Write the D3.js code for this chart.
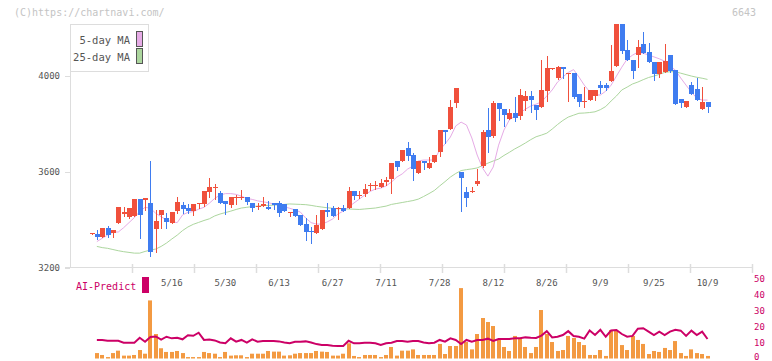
<!DOCTYPE html>
<html>
<head>
<meta charset="utf-8">
<script src="https://cdn.jsdelivr.net/npm/d3@7"></script>
<style>
  body { margin: 0; background: #fff; }
  text { font-family: "DejaVu Sans Mono", monospace; }
</style>
</head>
<body>
<div id="chart"></div>
<script>
const dates = [
  '4/22','4/23','4/24','4/25','4/28','4/30','5/1','5/2','5/7','5/8',
  '5/9','5/12','5/13','5/14','5/15','5/16','5/19','5/20','5/21','5/22',
  '5/23','5/26','5/27','5/28','5/29','5/30','6/2','6/3','6/4','6/5',
  '6/6','6/9','6/10','6/11','6/12','6/13','6/16','6/17','6/18','6/19',
  '6/20','6/23','6/24','6/25','6/26','6/27','6/30','7/1','7/2','7/3',
  '7/4','7/7','7/8','7/9','7/10','7/11','7/14','7/15','7/16','7/17',
  '7/18','7/22','7/23','7/24','7/25','7/28','7/29','7/30','7/31','8/1',
  '8/4','8/5','8/6','8/7','8/8','8/12','8/13','8/14','8/15','8/18',
  '8/19','8/20','8/21','8/22','8/25','8/26','8/27','8/28','8/29','9/1',
  '9/2','9/3','9/4','9/5','9/8','9/9','9/10','9/11','9/12','9/16',
  '9/17','9/18','9/19','9/22','9/24','9/25','9/26','9/29','9/30','10/1',
  '10/2','10/3','10/6','10/7','10/8','10/9'
]

const open = [
  3343, 3342, 3330, 3367, 3347, 3389, 3425, 3414, 3418, 3487,
  3483, 3472, 3362, 3422, 3408, 3389, 3437, 3462, 3450, 3437,
  3467, 3467, 3517, 3535, 3514, 3479, 3464, 3495, 3495, 3496,
  3471, 3456, 3460, 3454, 3471, 3471, 3467, 3432, 3446, 3421,
  3383, 3354, 3347, 3364, 3442, 3450, 3444, 3450, 3451, 3521,
  3503, 3510, 3542, 3545, 3539, 3560, 3572, 3646, 3647, 3700,
  3671, 3597, 3647, 3618, 3642, 3685, 3775, 3780, 3889, 3600,
  3517, 3515, 3551, 3625, 3775, 3751, 3887, 3862, 3821, 3846,
  3835, 3897, 3917, 3879, 3871, 3939, 4031, 3993, 4037, 4010,
  4011, 3925, 3895, 3902, 3918, 3961, 3961, 3980, 4043, 4240,
  4108, 4069, 4089, 4133, 4099, 4060, 4010, 4018, 4089, 4025,
  3905, 3872, 3962, 3948, 3863, 3892
]
const high = [
  3346, 3358, 3367, 3375, 3358, 3454, 3454, 3449, 3487, 3487,
  3492, 3646, 3442, 3442, 3430, 3433, 3496, 3475, 3467, 3467,
  3472, 3521, 3575, 3551, 3522, 3479, 3496, 3503, 3525, 3496,
  3471, 3470, 3497, 3480, 3471, 3479, 3467, 3434, 3446, 3421,
  3408, 3372, 3421, 3442, 3471, 3458, 3455, 3461, 3537, 3521,
  3521, 3550, 3553, 3564, 3571, 3578, 3637, 3646, 3692, 3725,
  3679, 3646, 3647, 3662, 3671, 3775, 3775, 3900, 3950, 3600,
  3539, 3539, 3612, 3775, 3867, 3896, 3887, 3862, 3862, 3912,
  3946, 3937, 3937, 3879, 4067, 4083, 4035, 4042, 4037, 4012,
  4011, 3925, 3953, 3941, 3941, 3980, 3971, 4129, 4240, 4240,
  4150, 4069, 4150, 4182, 4137, 4060, 4060, 4133, 4089, 4025,
  3905, 3897, 3975, 3990, 3954, 3892
]
const low = [
  3343, 3320, 3330, 3330, 3330, 3389, 3417, 3407, 3418, 3326,
  3440, 3250, 3268, 3367, 3367, 3389, 3428, 3430, 3428, 3422,
  3451, 3458, 3497, 3487, 3472, 3426, 3455, 3465, 3486, 3468,
  3439, 3445, 3460, 3447, 3447, 3418, 3439, 3418, 3418, 3380,
  3317, 3305, 3347, 3364, 3418, 3418, 3405, 3439, 3451, 3489,
  3492, 3501, 3525, 3528, 3536, 3546, 3511, 3610, 3647, 3650,
  3568, 3597, 3614, 3618, 3640, 3668, 3722, 3780, 3872, 3439,
  3460, 3515, 3547, 3621, 3685, 3747, 3817, 3793, 3821, 3814,
  3821, 3858, 3850, 3822, 3871, 3896, 4031, 3989, 3990, 3897,
  3910, 3876, 3872, 3900, 3900, 3928, 3942, 3980, 4043, 4095,
  4069, 3993, 4036, 4096, 4060, 3983, 3997, 4018, 4015, 3883,
  3872, 3872, 3926, 3902, 3863, 3851
]
const close = [
  3346, 3330, 3367, 3339, 3358, 3454, 3435, 3449, 3487, 3422,
  3492, 3268, 3397, 3442, 3393, 3433, 3475, 3447, 3437, 3467,
  3472, 3521, 3536, 3537, 3472, 3467, 3496, 3497, 3497, 3476,
  3451, 3458, 3467, 3447, 3464, 3428, 3439, 3434, 3418, 3380,
  3351, 3349, 3378, 3442, 3432, 3418, 3450, 3439, 3521, 3499,
  3505, 3529, 3544, 3547, 3555, 3565, 3637, 3622, 3692, 3668,
  3614, 3646, 3639, 3636, 3671, 3775, 3768, 3871, 3950, 3576,
  3493, 3521, 3562, 3767, 3747, 3887, 3864, 3839, 3846, 3826,
  3921, 3917, 3901, 3860, 3942, 4033, 4035, 4037, 4031, 4012,
  3914, 3893, 3897, 3941, 3941, 3949, 3951, 4021, 4240, 4105,
  4069, 4022, 4121, 4096, 4060, 4010, 4060, 4062, 4021, 3883,
  3888, 3897, 3926, 3902, 3892, 3869
]

const ma5 = [
  null, 3310, 3324, 3337, 3350, 3350, 3368, 3389, 3410, 3435,
  3453, 3449, 3428, 3414, 3400, 3393, 3389, 3421, 3432, 3435,
  3445, 3453, 3470, 3490, 3504, 3510, 3510, 3507, 3499, 3490,
  3486, 3480, 3476, 3472, 3467, 3462, 3455, 3449, 3442, 3433,
  3408, 3389, 3383, 3383, 3392, 3404, 3425, 3437, 3454, 3471,
  3487, 3504, 3519, 3529, 3533, 3542, 3558, 3579, 3592, 3612,
  3625, 3646, 3650, 3650, 3650, 3692, 3717, 3746, 3792, 3808,
  3796, 3742, 3671, 3617, 3583, 3621, 3712, 3775, 3817, 3833,
  3846, 3862, 3875, 3883, 3892, 3917, 3942, 3975, 3996, 4015,
  4027, 3996, 3962, 3935, 3921, 3921, 3937, 3962, 4000, 4037,
  4071, 4087, 4100, 4095, 4088, 4080, 4072, 4062, 4042, 4025,
  3992, 3962, 3933, 3908, 3900, 3900
]
const ma25 = [
  null, 3290, 3285, 3282, 3277, 3272, 3268, 3265, 3262, 3262,
  3269, 3275, 3279, 3290, 3304, 3321, 3337, 3356, 3371, 3382,
  3390, 3398, 3405, 3417, 3425, 3431, 3437, 3444, 3450, 3453,
  3456, 3458, 3460, 3461, 3462, 3464, 3465, 3467, 3466, 3465,
  3464, 3461, 3457, 3454, 3451, 3449, 3447, 3447, 3446, 3445,
  3444, 3446, 3448, 3450, 3454, 3458, 3465, 3469, 3473, 3477,
  3481, 3487, 3498, 3510, 3523, 3542, 3560, 3579, 3594, 3606,
  3610, 3613, 3617, 3627, 3637, 3646, 3654, 3669, 3682, 3696,
  3708, 3721, 3735, 3747, 3754, 3762, 3779, 3798, 3815, 3829,
  3837, 3845, 3846, 3848, 3851, 3860, 3873, 3896, 3917, 3942,
  3954, 3967, 3975, 3985, 3994, 4000, 4007, 4015, 4018, 4018,
  4012, 4006, 4000, 3995, 3991, 3986
]

// lower panel
const volume = [
  null, 3.4, 2.2, 0.9, 3.4, 4.9, 1.8, 1.8, 2.2, 5.3,
  3, 36.3, 15.3, 6.4, 4.1, 4.1, 4.7, 3.4, 0.9, 0.9,
  0.9, 4.1, 3.4, 3, 0.9, 4.1, 1.8, 2, 2, 0.9,
  3, 3, 3, 4.7, 4.3, 4.3, 1.8, 2, 3, 3.4,
  3.4, 3.4, 4.7, 4.3, 4.1, 1.8, 1.8, 3, 9.5, 1.6,
  0.9, 2.2, 2.2, 2.2, 0.9, 2.2, 7.2, 1.8, 4.9, 4.9,
  5.7, 2.2, 2.2, 2.2, 2.2, 9.1, 2.8, 7.8, 7.8, 44,
  10.3, 5.7, 15.3, 25.3, 22.8, 20.3, 12.2, 7.2, 4.7, 14.1,
  12.2, 7.2, 3.4, 7.2, 30.3, 15.3, 10.3, 4.7, 5.3, 14.1,
  12.8, 10.3, 8.4, 2.2, 2.2, 5.3, 1.6, 17.8, 17.8, 8.4,
  5.3, 14.1, 11.6, 9.1, 2.8, 4.7, 4.1, 6.6, 5.3, 10.9,
  3.4, 1.6, 5.7, 3.4, 2.8, 1.6
]
const aiPredict = [
  null, 11.6, 11.6, 11.1, 11.1, 11.1, 9.9, 9.9, 9.9, 13,
  10.5, 13.5, 13.8, 11.8, 13.6, 12.6, 13, 12, 14.5, 14.2,
  16.1, 11.6, 11.8, 11.3, 10, 9.5, 12.6, 10.5, 11.6, 9.9,
  12, 10.5, 10.9, 10.9, 10.9, 10.7, 10, 9.5, 10.5, 10.5,
  10.7, 10, 9, 8.4, 8.4, 8, 7.8, 7.8, 11.1, 9.5,
  9.5, 9.8, 9.8, 9.5, 8.4, 9.5, 9.9, 10.9, 11, 10.5,
  10.9, 10.9, 10, 9.5, 9.9, 11.6, 10.5, 12.6, 11.6, 9.1,
  11.6, 10.5, 11.5, 11.6, 12.4, 11, 12.2, 12.2, 12.2, 12.6,
  12.6, 13.2, 12.9, 12.8, 14.3, 17.1, 13.2, 13.6, 14.7, 17.1,
  14.1, 13.6, 12.4, 17.5, 14.7, 17.9, 13.6, 17.5, 17.8, 15.3,
  13.6, 14.1, 18.6, 18.9, 16.8, 14.7, 16.8, 14.7, 16.8, 18,
  17.4, 14.1, 17.4, 14.7, 16.8, 12.2
]

const priceTicks = [3200, 3600, 4000]
const predictTicks = [0, 10, 20, 30, 40, 50]
const dateLabels = ['5/16', '5/30', '6/13', '6/27', '7/11', '7/28', '8/12', '8/26', '9/9', '9/25', '10/9']
const legendItems = ['5-day MA', '25-day MA']

const w = 772, h = 361
const plotLeft = 70, plotRight = 752, plotTop = 24, plotBottom = 268

const upColor = '#f0503c'
const downColor = '#3f7cf0'
const ma5Color = '#e6abe6'
const ma25Color = '#acd69e'
const magenta = '#cc0066'
const gray = '#dddddd'

const svg = d3.select('#chart')
    .append('svg')
    .attr('width', w)
    .attr('height', h)

const x = d3.scalePoint().domain(dates).range([91.5, 707.5])
const y = d3.scaleLinear().domain([3200, 4217]).range([plotBottom, plotTop])
const yPred = d3.scaleLinear().domain([0, 50]).range([358.5, 278.5])
const grid = d3.scaleLinear().domain([0, 11]).range([plotLeft, plotRight])

const px = (d) => Math.round(x(d))

// header texts
svg.append('text')
    .attr('x', 14).attr('y', 16)
    .attr('font-size', 10).attr('fill', '#c4c4c4')
    .text('(C)https://chartnavi.com/')

svg.append('text')
    .attr('x', 756).attr('y', 16)
    .attr('text-anchor', 'end')
    .attr('font-size', 10).attr('fill', '#c4c4c4')
    .text('6643')

// axes
svg.append('line')
    .attr('x1', plotLeft + 0.5).attr('x2', plotLeft + 0.5)
    .attr('y1', plotTop).attr('y2', plotBottom)
    .attr('stroke', gray)

svg.append('line')
    .attr('x1', 65).attr('x2', plotRight)
    .attr('y1', plotBottom - 0.5).attr('y2', plotBottom - 0.5)
    .attr('stroke', gray)

svg.selectAll('.ytick')
    .data(priceTicks)
    .enter()
    .append('line')
    .attr('class', 'ytick')
    .attr('x1', 65).attr('x2', plotLeft)
    .attr('y1', (d) => Math.round(y(d)) + 0.5)
    .attr('y2', (d) => Math.round(y(d)) + 0.5)
    .attr('stroke', gray)

svg.selectAll('.ylabel')
    .data(priceTicks)
    .enter()
    .append('text')
    .attr('class', 'ylabel')
    .attr('x', 60)
    .attr('y', (d) => y(d))
    .attr('dy', '0.35em')
    .attr('text-anchor', 'end')
    .attr('font-size', 9).attr('fill', '#555')
    .text((d) => d)

svg.selectAll('.xtick')
    .data(grid.ticks(11).slice(1))
    .enter()
    .append('line')
    .attr('class', 'xtick')
    .attr('x1', (d) => Math.round(grid(d)) + 0.5)
    .attr('x2', (d) => Math.round(grid(d)) + 0.5)
    .attr('y1', 264).attr('y2', 273)
    .attr('stroke', gray)
    .attr('stroke-width', 1.5)

svg.selectAll('.xlabel')
    .data(dateLabels)
    .enter()
    .append('text')
    .attr('class', 'xlabel')
    .attr('x', (d) => x(d))
    .attr('y', 285.5)
    .attr('text-anchor', 'middle')
    .attr('font-size', 9).attr('fill', '#555')
    .text((d) => d)

// price panel
svg.append('clipPath')
    .attr('id', 'plot-clip')
    .append('rect')
    .attr('x', plotLeft).attr('y', plotTop)
    .attr('width', plotRight - plotLeft).attr('height', plotBottom - plotTop)

const plot = svg.append('g').attr('clip-path', 'url(#plot-clip)')

const maLine = (values) => d3.line()
    .defined((d, i) => values[i] !== null)
    .x((d) => x(d))
    .y((d, i) => y(values[i]))

plot.append('path')
    .attr('d', maLine(ma25)(dates))
    .attr('fill', 'none')
    .attr('stroke', ma25Color)
    .attr('stroke-width', 1)

plot.append('path')
    .attr('d', maLine(ma5)(dates))
    .attr('fill', 'none')
    .attr('stroke', ma5Color)
    .attr('stroke-width', 1)

const candles = plot.selectAll('.candle')
    .data(dates)
    .enter()
    .append('g')
    .attr('class', 'candle')
    .attr('fill', (d, i) => close[i] >= open[i] ? upColor : downColor)
    .attr('stroke', (d, i) => close[i] >= open[i] ? upColor : downColor)

candles.append('line')
    .attr('x1', (d) => px(d) + 0.5)
    .attr('x2', (d) => px(d) + 0.5)
    .attr('y1', (d, i) => Math.round(y(high[i])))
    .attr('y2', (d, i) => Math.round(y(low[i])) + 1)

candles.append('rect')
    .attr('stroke', 'none')
    .attr('x', (d) => px(d) - 2)
    .attr('width', 5)
    .attr('y', (d, i) => Math.round(y(Math.max(open[i], close[i]))))
    .attr('height', (d, i) => Math.max(1, Math.round(y(Math.min(open[i], close[i]))) - Math.round(y(Math.max(open[i], close[i])))))

// legend
const legend = svg.append('g')
legend.append('rect')
    .attr('x', 70.5).attr('y', 24.5)
    .attr('width', 78).attr('height', 47)
    .attr('fill', '#fff')
    .attr('stroke', gray)

legend.selectAll('text')
    .data(legendItems)
    .enter()
    .append('text')
    .attr('x', 130)
    .attr('y', (d, i) => 44 + i * 16.5)
    .attr('text-anchor', 'end')
    .attr('font-size', 10.5).attr('fill', '#555')
    .text((d) => d)

legend.selectAll('.swatch')
    .data([ma5Color, ma25Color])
    .enter()
    .append('rect')
    .attr('class', 'swatch')
    .attr('x', 136.5)
    .attr('y', (d, i) => 31.5 + i * 17)
    .attr('width', 6).attr('height', 15)
    .attr('fill', (d) => d)
    .attr('stroke', '#555')

// AI-Predict panel
svg.append('text')
    .attr('x', 76).attr('y', 290)
    .attr('font-size', 10).attr('fill', magenta)
    .text('AI-Predict')

svg.append('rect')
    .attr('x', 142).attr('y', 277)
    .attr('width', 7).attr('height', 16)
    .attr('fill', magenta)

svg.selectAll('.plabel')
    .data(predictTicks)
    .enter()
    .append('text')
    .attr('class', 'plabel')
    .attr('x', 754)
    .attr('y', (d) => Math.min(yPred(d) + 3, 360))
    .attr('font-size', 9).attr('fill', magenta)
    .text((d) => d)

svg.selectAll('.bar')
    .data(dates.filter((d, i) => volume[i] !== null))
    .enter()
    .append('rect')
    .attr('class', 'bar')
    .attr('x', (d) => px(d) - 2)
    .attr('width', 4)
    .attr('y', (d) => yPred(volume[dates.indexOf(d)]))
    .attr('height', (d) => yPred(0) - yPred(volume[dates.indexOf(d)]))
    .attr('fill', '#f39a42')

svg.append('path')
    .attr('d', d3.line()
        .defined((d, i) => aiPredict[i] !== null)
        .x((d) => x(d))
        .y((d, i) => yPred(aiPredict[i]))(dates))
    .attr('fill', 'none')
    .attr('stroke', magenta)
    .attr('stroke-width', 2)
</script>
</body>
</html>
